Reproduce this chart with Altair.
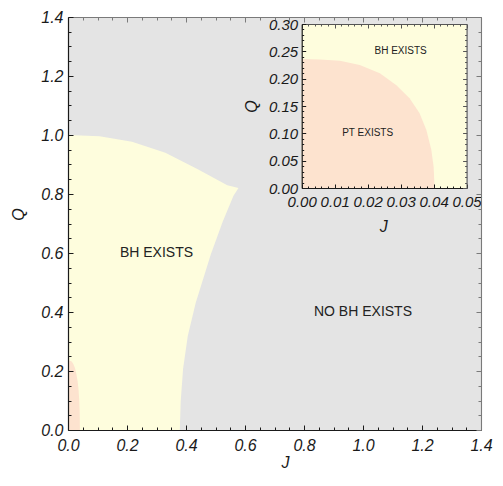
import altair as alt
import numpy as np
import pandas as pd

# ---------------- data ----------------
# Main panel: right edge of the "BH EXISTS" region, largest J for each Q
bh_q = [0.0, 0.096, 0.207, 0.319, 0.431, 0.595, 0.705, 0.794, 0.82, 0.83, 0.884, 0.94, 0.977, 0.996, 1.0]
bh_j = [0.379, 0.382, 0.39, 0.406, 0.433, 0.484, 0.524, 0.561, 0.578, 0.54, 0.44, 0.33, 0.217, 0.107, 0.0]

# "PT EXISTS" region, largest J for each Q (inset, also at the main panel's corner)
pt_q = [0.0, 0.039, 0.070, 0.106, 0.137, 0.164, 0.188, 0.210, 0.225, 0.233, 0.235, 0.236]
pt_j = [0.0403, 0.0400, 0.0393, 0.0378, 0.0357, 0.0327, 0.0287, 0.0237, 0.0176, 0.0116, 0.0055, 0.0]

main_labels = ["BH EXISTS", "NO BH EXISTS"]
main_label_j = [0.30, 1.0]
main_label_q = [0.60, 0.40]

inset_labels = ["BH EXISTS", "PT EXISTS"]
inset_label_j = [0.030, 0.020]
inset_label_q = [0.25, 0.10]

main_domain_j = [0.0, 1.4]
main_domain_q = [0.0, 1.4]
main_ticks = [0.0, 0.2, 0.4, 0.6, 0.8, 1.0, 1.2, 1.4]

inset_domain_j = [0.0, 0.05]
inset_domain_q = [0.0, 0.30]
inset_j_ticks = [0.0, 0.01, 0.02, 0.03, 0.04, 0.05]
inset_q_ticks = [0.0, 0.05, 0.10, 0.15, 0.20, 0.25, 0.30]

# ---------------- style / layout ----------------
GRAY = "#e4e4e4"
YELLOW = "#fefddd"
PINK = "#fde3cf"
DARK = "#1a1a1a"
FRAME2 = "#7a7a7a"
IFRAME2 = "#555555"
FONT = "Liberation Sans"

W, H = 413, 413
PAD = {"left": 60, "top": 9, "right": 14, "bottom": 44}
OX, OY = 68, 17
# inset box: page pixels -> plot pixels
IX0, IX1 = 301.7 - OX, 466.6 - OX
IY0, IY1 = 188.0 - OY, 24.0 - OY


def minor(lo, hi, step, majors):
    vals = np.round(np.arange(lo, hi + step / 2, step), 4)
    return [float(v) for v in vals if not any(abs(v - m) < 1e-9 for m in majors)]


main_minor = minor(0.0, 1.4, 0.05, main_ticks)
inset_j_minor = minor(0.0, 0.05, 0.002, inset_j_ticks)
inset_q_minor = minor(0.0, 0.30, 0.01, inset_q_ticks)

bh_df = pd.DataFrame({"j": bh_j, "q": bh_q})
pt_df = pd.DataFrame({"j": pt_j, "q": pt_q})
main_lab_df = pd.DataFrame({"j": main_label_j, "q": main_label_q, "t": main_labels})
inset_lab_df = pd.DataFrame({"j": inset_label_j, "q": inset_label_q, "t": inset_labels})
inset_box_df = pd.DataFrame({"j0": [inset_domain_j[0]], "j1": [inset_domain_j[1]],
                             "q0": [inset_domain_q[0]], "q1": [inset_domain_q[1]]})


def mx():
    return alt.Scale(domain=main_domain_j, nice=False, zero=False)


def my():
    return alt.Scale(domain=main_domain_q, nice=False, zero=False)


def ix():
    return alt.Scale(domain=inset_domain_j, range=[IX0, IX1], nice=False, zero=False)


def iy():
    return alt.Scale(domain=inset_domain_q, range=[IY0, IY1], nice=False, zero=False)


def tick_axis(orient, values, size, color, offset):
    # ticks only, shifted inwards by their own length so that they point into the frame
    return alt.Axis(orient=orient, values=values, domain=False, labels=False, ticks=True,
                    tickSize=size, tickColor=color, tickWidth=1, offset=offset,
                    grid=False, title=None, zindex=2)


def frame_axis(orient, color, offset=0):
    return alt.Axis(orient=orient, domain=True, domainColor=color, domainWidth=1.1,
                    labels=False, ticks=False, grid=False, title=None, offset=offset, zindex=2)


def label_axis(orient, values, fmt, size, pad, title, tx, ty, offset=0):
    return alt.Axis(orient=orient, values=values, format=fmt, offset=offset,
                    domain=True, domainColor=DARK, domainWidth=1.2, ticks=False, grid=False,
                    labelFont=FONT, labelFontSize=size, labelFontStyle="italic",
                    labelColor=DARK, labelPadding=pad, labelFlush=False, labelOverlap=False,
                    title=title, titleFont=FONT, titleFontSize=16, titleFontStyle="italic",
                    titleFontWeight="normal", titleColor=DARK, titleX=tx, titleY=ty,
                    titleAlign="center", titleBaseline="middle", zindex=2)


def dummy(df, xs, ys, xa, ya):
    return alt.Chart(df).mark_point(opacity=0).encode(
        x=alt.X("j:Q", scale=xs, axis=xa),
        y=alt.Y("q:Q", scale=ys, axis=ya),
    )


# ---------------- main panel ----------------
m_yellow = alt.Chart(bh_df).mark_area(orient="horizontal", color=YELLOW).encode(
    x=alt.X("j:Q", scale=mx(),
            axis=label_axis("bottom", main_ticks, ".1f", 16, 7, "J", 285 - OX, 32)),
    x2=alt.datum(0),
    y=alt.Y("q:Q", scale=my(),
            axis=label_axis("left", main_ticks, ".1f", 16, 5, "Q", -50, 214 - OY)),
)

m_pink = alt.Chart(pt_df).mark_area(orient="horizontal", color=PINK).encode(
    x=alt.X("j:Q", scale=mx(), axis=frame_axis("top", FRAME2)),
    x2=alt.datum(0),
    y=alt.Y("q:Q", scale=my(), axis=frame_axis("right", FRAME2)),
)

m_text = alt.Chart(main_lab_df).mark_text(font=FONT, fontSize=14, color="#222",
                                          align="center", baseline="middle").encode(
    x=alt.X("j:Q", scale=mx(), axis=tick_axis("bottom", main_ticks, 5, DARK, -5)),
    y=alt.Y("q:Q", scale=my(), axis=tick_axis("left", main_ticks, 5, DARK, -5)),
    text="t:N",
)

m_d1 = dummy(main_lab_df, mx(), my(),
             tick_axis("bottom", main_minor, 3, DARK, -3),
             tick_axis("left", main_minor, 3, DARK, -3))
m_d2 = dummy(main_lab_df, mx(), my(),
             tick_axis("top", main_ticks, 5, FRAME2, -5),
             tick_axis("right", main_ticks, 5, FRAME2, -5))
m_d3 = dummy(main_lab_df, mx(), my(),
             tick_axis("top", main_minor, 3, FRAME2, -3),
             tick_axis("right", main_minor, 3, FRAME2, -3))

# ---------------- inset ----------------
i_box = alt.Chart(inset_box_df).mark_rect(color=YELLOW).encode(
    x=alt.X("j0:Q", scale=ix(),
            axis=label_axis("bottom", inset_j_ticks, ".2f", 15, 6, "J",
                            383.3 - OX, 38.7, offset=IY0 - H)),
    x2="j1:Q",
    y=alt.Y("q0:Q", scale=iy(),
            axis=label_axis("left", inset_q_ticks, ".2f", 15, 4, "Q",
                            -50.7, 106 - OY, offset=-IX0)),
    y2="q1:Q",
)

i_pink = alt.Chart(pt_df).mark_area(orient="horizontal", color=PINK).encode(
    x=alt.X("j:Q", scale=ix(), axis=frame_axis("top", IFRAME2, offset=-IY1)),
    x2=alt.datum(0),
    y=alt.Y("q:Q", scale=iy(), axis=frame_axis("right", IFRAME2, offset=IX1 - W)),
)

i_text = alt.Chart(inset_lab_df).mark_text(font=FONT, fontSize=10, color="#222",
                                           align="center", baseline="middle").encode(
    x=alt.X("j:Q", scale=ix(), axis=tick_axis("bottom", inset_j_ticks, 4, DARK, IY0 - H - 4)),
    y=alt.Y("q:Q", scale=iy(), axis=tick_axis("left", inset_q_ticks, 4, DARK, -(IX0 + 4))),
    text="t:N",
)

i_d1 = dummy(inset_lab_df, ix(), iy(),
             tick_axis("bottom", inset_j_minor, 2, DARK, IY0 - H - 2),
             tick_axis("left", inset_q_minor, 2, DARK, -(IX0 + 2)))
i_d2 = dummy(inset_lab_df, ix(), iy(),
             tick_axis("top", inset_j_ticks, 4, IFRAME2, -(IY1 + 4)),
             tick_axis("right", inset_q_ticks, 4, IFRAME2, IX1 - 4 - W))
i_d3 = dummy(inset_lab_df, ix(), iy(),
             tick_axis("top", inset_j_minor, 2, IFRAME2, -(IY1 + 2)),
             tick_axis("right", inset_q_minor, 2, IFRAME2, IX1 - 2 - W))

chart = alt.layer(
    m_yellow, m_pink, m_text, m_d1, m_d2, m_d3,
    i_box, i_pink, i_text, i_d1, i_d2, i_d3,
).resolve_scale(x="independent", y="independent").properties(
    width=W, height=H,
    autosize=alt.AutoSizeParams(type="none"),
    padding=PAD,
).configure_view(fill=GRAY, stroke=None)

chart.save("out.html", embed_options={"renderer": "svg", "actions": False})
